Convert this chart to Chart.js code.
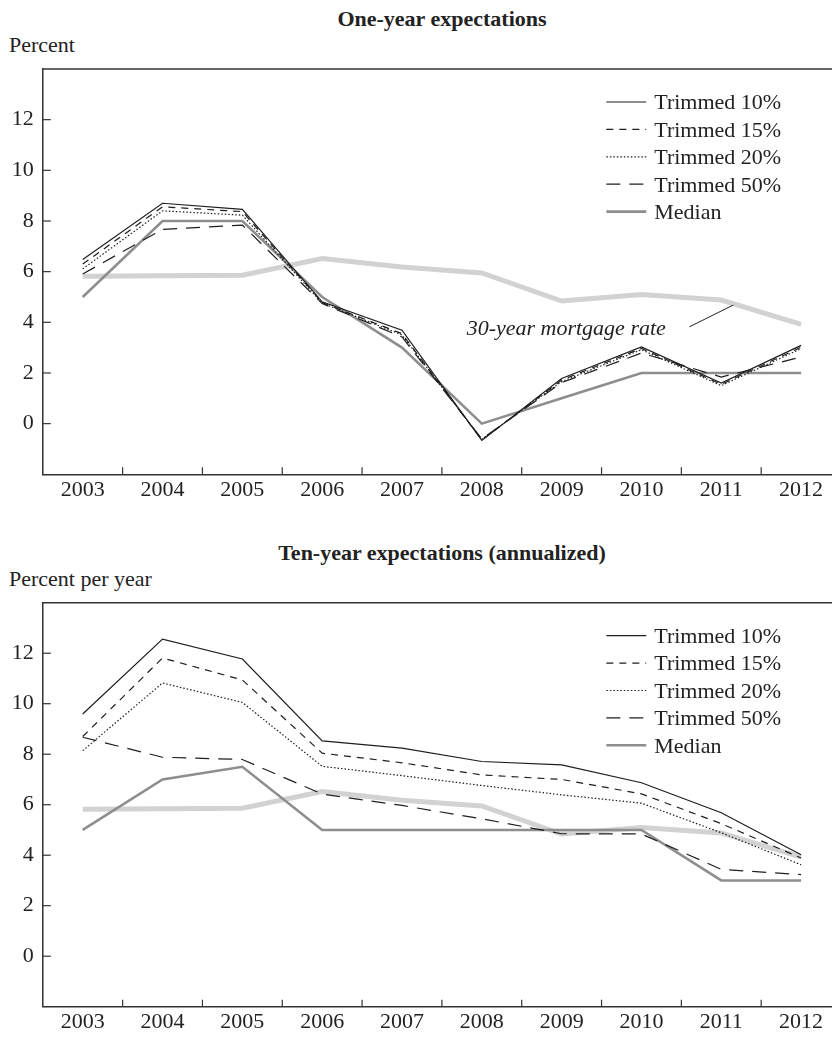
<!DOCTYPE html>
<html>
<head>
<meta charset="utf-8">
<script src="https://cdn.jsdelivr.net/npm/chart.js@4.4.1/dist/chart.umd.min.js"></script>
<style>
  html, body { margin:0; padding:0; background:#fff; overflow:hidden; width:832px; height:1038px; }
  .txt { position:absolute; font-family:"Liberation Serif","Times New Roman",serif; color:#222; white-space:nowrap; }
  .ttl { font-weight:bold; font-size:22px; line-height:24px; text-align:center; width:400px; }
  .ylab { font-size:22px; line-height:24px; }
  canvas { position:absolute; left:0; }
</style>
</head>
<body>
<div class="txt ttl" style="left:242px; top:7px;">One-year expectations</div>
<div class="txt ylab" style="left:9px; top:33px;">Percent</div>
<div class="txt ttl" style="left:242px; top:541px;">Ten-year expectations (annualized)</div>
<div class="txt ylab" style="left:9px; top:567px;">Percent per year</div>
<canvas id="c1" width="842" height="520" style="top:0px"></canvas>
<canvas id="c2" width="842" height="508" style="top:530px"></canvas>
<script>
// ---- Data ----
const years = ['2003','2004','2005','2006','2007','2008','2009','2010','2011','2012'];
const yTickValues = [0, 2, 4, 6, 8, 10, 12];

const mortgageRate = [5.82, 5.84, 5.86, 6.52, 6.18, 5.95, 4.84, 5.10, 4.88, 3.92];

const oneYearT10 = [6.48, 8.70, 8.46, 4.81, 3.69, -0.66, 1.78, 3.03, 1.60, 3.09];
const oneYearT15 = [6.30, 8.56, 8.37, 4.78, 3.55, -0.64, 1.72, 2.97, 1.55, 3.02];
const oneYearT20 = [6.11, 8.40, 8.23, 4.76, 3.50, -0.62, 1.66, 2.92, 1.50, 2.96];
const oneYearT50 = [5.91, 7.67, 7.84, 4.74, 3.42, -0.60, 1.62, 2.79, 1.84, 2.63];
const oneYearMedian = [5.0, 8.0, 8.0, 5.0, 3.0, 0.0, 1.0, 2.0, 2.0, 2.0];

const tenYearT10 = [9.59, 12.56, 11.77, 8.53, 8.24, 7.71, 7.58, 6.87, 5.68, 4.02];
const tenYearT15 = [8.70, 11.81, 10.94, 8.04, 7.66, 7.18, 7.00, 6.43, 5.25, 3.89];
const tenYearT20 = [8.14, 10.82, 10.05, 7.52, 7.15, 6.76, 6.39, 6.06, 4.89, 3.62];
const tenYearT50 = [8.67, 7.88, 7.79, 6.42, 5.97, 5.44, 4.85, 4.84, 3.44, 3.23];
const tenYearMedian = [5.0, 7.0, 7.5, 5.0, 5.0, 5.0, 5.0, 5.0, 3.0, 3.0];

const seriesNames = ['Trimmed 10%', 'Trimmed 15%', 'Trimmed 20%', 'Trimmed 50%', 'Median'];
const annotationText = '30-year mortgage rate';

// ---- Styles ----
const FONT = '"Liberation Serif","Times New Roman",serif';
const INK = '#1e1e1e';
const styles = [
  { color: INK, width: 1.2, dash: [] },
  { color: INK, width: 1.2, dash: [7, 6] },
  { color: INK, width: 1.2, dash: [1.5, 2] },
  { color: INK, width: 1.2, dash: [14, 9] },
  { color: '#8e8e8e', width: 2.6, dash: [] }
];

function buildDatasets(seriesList) {
  const ds = seriesList.map((data, i) => ({
    label: seriesNames[i],
    data: data,
    borderColor: styles[i].color,
    borderWidth: styles[i].width,
    borderDash: styles[i].dash,
    pointRadius: 0,
    tension: 0,
    fill: false,
    order: i,
    inLegend: true
  }));
  ds.push({
    label: '30-year mortgage rate',
    data: mortgageRate,
    borderColor: '#d2d2d2',
    borderWidth: 5,
    borderDash: [],
    pointRadius: 0,
    tension: 0,
    fill: false,
    order: 20,
    inLegend: false
  });
  return ds;
}

const framePlugin = {
  id: 'frame',
  afterDraw(chart, args, opts) {
    const ctx = chart.ctx;
    const a = chart.chartArea;
    const xs = chart.scales.x, ys = chart.scales.y;
    ctx.save();
    ctx.strokeStyle = '#333';
    ctx.lineWidth = 1.5;
    ctx.setLineDash([]);
    // top border
    ctx.beginPath();
    ctx.moveTo(a.left, a.top);
    ctx.lineTo(a.right + 2, a.top);
    ctx.stroke();
    // inward ticks
    ctx.lineWidth = 1.2;
    yTickValues.forEach(v => {
      const y = ys.getPixelForValue(v);
      ctx.beginPath();
      ctx.moveTo(a.left, y);
      ctx.lineTo(a.left + 8, y);
      ctx.stroke();
    });
    for (let i = 0; i < years.length - 1; i++) {
      const x = (xs.getPixelForValue(i) + xs.getPixelForValue(i + 1)) / 2;
      ctx.beginPath();
      ctx.moveTo(x, a.bottom);
      ctx.lineTo(x, a.bottom - 7);
      ctx.stroke();
    }
    // legend
    const lx0 = xs.getPixelForValue(6.56), lx1 = xs.getPixelForValue(7.06);
    ctx.font = '22px ' + FONT;
    ctx.textBaseline = 'alphabetic';
    ctx.textAlign = 'left';
    chart.data.datasets.filter(d => d.inLegend).forEach((d, i) => {
      const y = a.top + 33 + i * 27.4;
      ctx.strokeStyle = d.borderColor;
      ctx.lineWidth = d.borderWidth;
      ctx.setLineDash(d.borderDash || []);
      ctx.beginPath();
      ctx.moveTo(lx0, y);
      ctx.lineTo(lx1, y);
      ctx.stroke();
      ctx.setLineDash([]);
      ctx.fillStyle = '#222';
      ctx.fillText(d.label, lx1 + 8, y + 7.3);
    });
    // annotation
    if (opts && opts.annotate) {
      ctx.font = 'italic 22px ' + FONT;
      ctx.fillStyle = '#222';
      ctx.fillText(annotationText, xs.getPixelForValue(4.81), ys.getPixelForValue(3.49));
      ctx.strokeStyle = '#222';
      ctx.lineWidth = 1;
      ctx.beginPath();
      ctx.moveTo(xs.getPixelForValue(7.60), ys.getPixelForValue(3.82));
      ctx.lineTo(xs.getPixelForValue(8.15), ys.getPixelForValue(4.68));
      ctx.stroke();
    }
    ctx.restore();
  }
};

function makeChart(id, seriesList, padTop, xHeight, labelPad, annotate) {
  return new Chart(document.getElementById(id), {
    type: 'line',
    data: { labels: years, datasets: buildDatasets(seriesList) },
    plugins: [framePlugin],
    options: {
      responsive: false,
      animation: false,
      devicePixelRatio: 1,
      layout: { padding: { top: padTop, right: 1, left: 0, bottom: 0 } },
      plugins: {
        legend: { display: false },
        tooltip: { enabled: false },
        title: { display: false },
        frame: { annotate: annotate }
      },
      scales: {
        x: {
          type: 'category',
          offset: true,
          grid: { display: true, drawOnChartArea: false, drawTicks: false, offset: true },
          border: { display: true, color: '#333', width: 1.5 },
          ticks: { font: { family: FONT, size: 22 }, color: '#222', padding: labelPad, maxRotation: 0, autoSkip: false },
          afterFit(s) { s.height = xHeight; }
        },
        y: {
          type: 'linear',
          min: -2, max: 14,
          grid: { display: true, drawOnChartArea: false, drawTicks: false },
          border: { display: true, color: '#333', width: 1.5 },
          ticks: {
            stepSize: 2,
            font: { family: FONT, size: 22 }, color: '#222', padding: 9,
            callback: v => yTickValues.includes(v) ? String(v) : ''
          },
          afterFit(s) { s.width = 42.8; }
        }
      }
    }
  });
}

makeChart('c1', [oneYearT10, oneYearT15, oneYearT20, oneYearT50, oneYearMedian], 69, 45.7, 3, true);
makeChart('c2', [tenYearT10, tenYearT15, tenYearT20, tenYearT50, tenYearMedian], 72.7, 31.3, 2, false);
</script>
</body>
</html>
